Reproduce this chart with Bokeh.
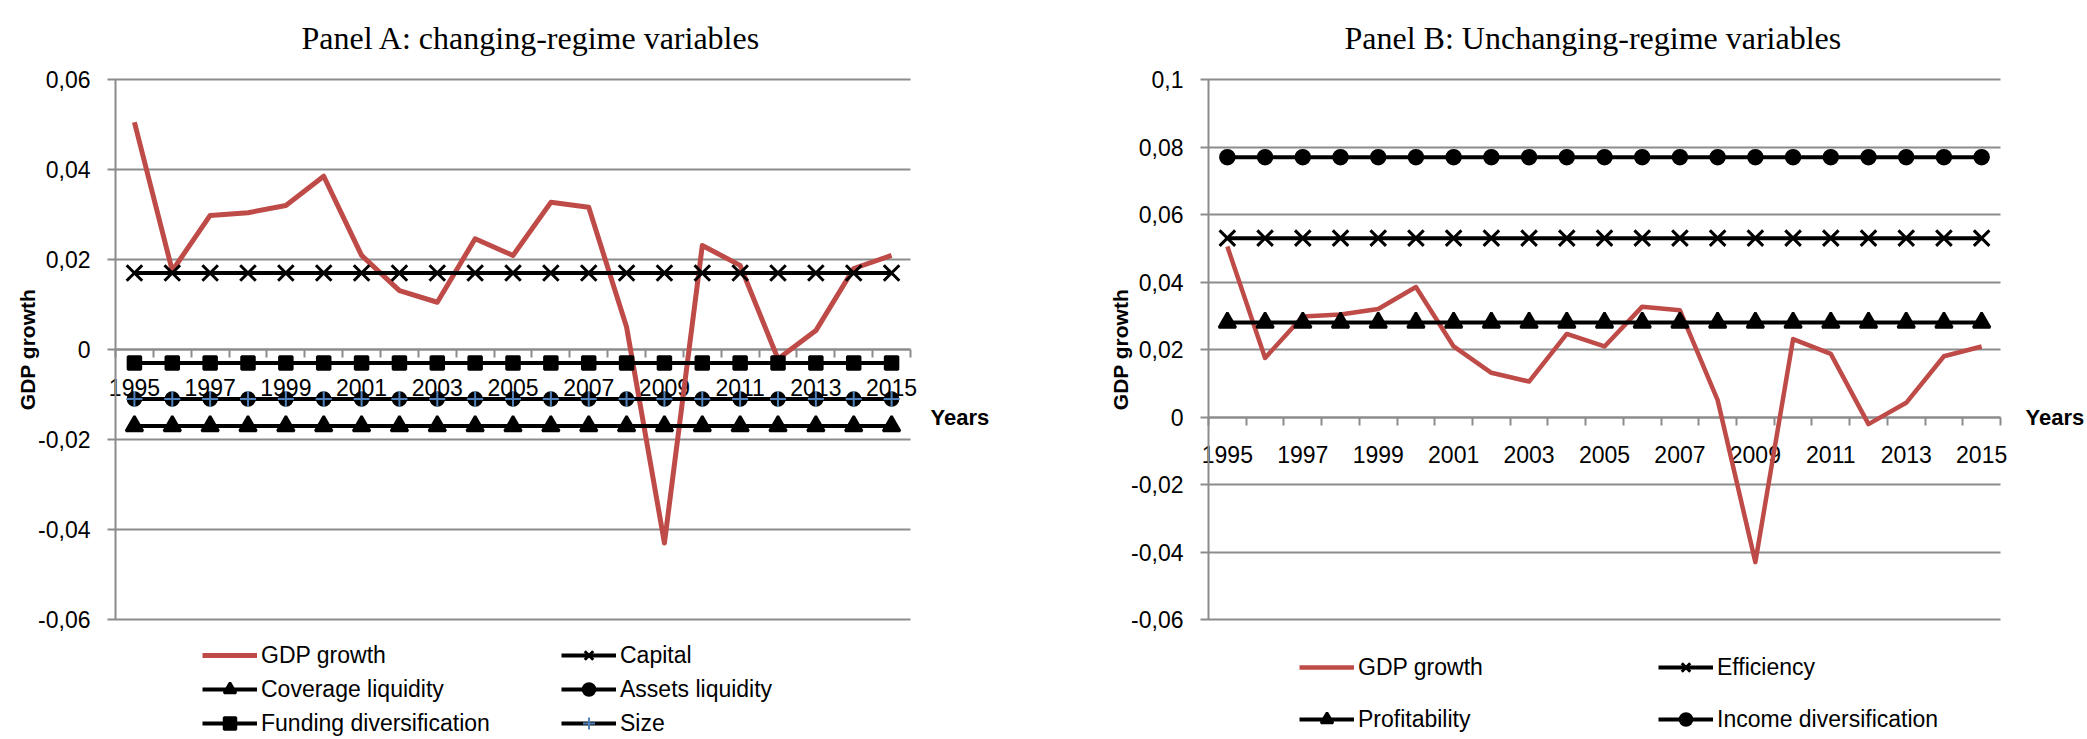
from bokeh.plotting import figure
from bokeh.layouts import row
from bokeh.models import FixedTicker, Label, Legend, LegendItem
from bokeh.embed import file_html
from bokeh.resources import INLINE

# ---------------- data ----------------
years = [1995, 1996, 1997, 1998, 1999, 2000, 2001, 2002, 2003, 2004, 2005,
         2006, 2007, 2008, 2009, 2010, 2011, 2012, 2013, 2014, 2015]
x_tick_years = [1995, 1997, 1999, 2001, 2003, 2005, 2007, 2009, 2011, 2013, 2015]
x_tick_labels = ["1995", "1997", "1999", "2001", "2003", "2005", "2007", "2009", "2011", "2013", "2015"]

gdp_growth = [0.0505, 0.0175, 0.0298, 0.0304, 0.0320, 0.0385, 0.0209, 0.0131, 0.0105, 0.0246, 0.0209,
              0.0327, 0.0316, 0.0050, -0.0430, 0.0231, 0.0187, -0.0021, 0.0042, 0.0180, 0.0209]

# Panel A (changing-regime variables)
capital = [0.017, 0.017, 0.017, 0.017, 0.017, 0.017, 0.017, 0.017, 0.017, 0.017, 0.017,
           0.017, 0.017, 0.017, 0.017, 0.017, 0.017, 0.017, 0.017, 0.017, 0.017]
coverage_liquidity = [-0.017, -0.017, -0.017, -0.017, -0.017, -0.017, -0.017, -0.017, -0.017, -0.017, -0.017,
                      -0.017, -0.017, -0.017, -0.017, -0.017, -0.017, -0.017, -0.017, -0.017, -0.017]
assets_liquidity = [-0.011, -0.011, -0.011, -0.011, -0.011, -0.011, -0.011, -0.011, -0.011, -0.011, -0.011,
                    -0.011, -0.011, -0.011, -0.011, -0.011, -0.011, -0.011, -0.011, -0.011, -0.011]
funding_diversification = [-0.003, -0.003, -0.003, -0.003, -0.003, -0.003, -0.003, -0.003, -0.003, -0.003, -0.003,
                           -0.003, -0.003, -0.003, -0.003, -0.003, -0.003, -0.003, -0.003, -0.003, -0.003]
size = [-0.011, -0.011, -0.011, -0.011, -0.011, -0.011, -0.011, -0.011, -0.011, -0.011, -0.011,
        -0.011, -0.011, -0.011, -0.011, -0.011, -0.011, -0.011, -0.011, -0.011, -0.011]

# Panel B (unchanging-regime variables)
efficiency = [0.053, 0.053, 0.053, 0.053, 0.053, 0.053, 0.053, 0.053, 0.053, 0.053, 0.053,
              0.053, 0.053, 0.053, 0.053, 0.053, 0.053, 0.053, 0.053, 0.053, 0.053]
profitability = [0.028, 0.028, 0.028, 0.028, 0.028, 0.028, 0.028, 0.028, 0.028, 0.028, 0.028,
                 0.028, 0.028, 0.028, 0.028, 0.028, 0.028, 0.028, 0.028, 0.028, 0.028]
income_diversification = [0.077, 0.077, 0.077, 0.077, 0.077, 0.077, 0.077, 0.077, 0.077, 0.077, 0.077,
                          0.077, 0.077, 0.077, 0.077, 0.077, 0.077, 0.077, 0.077, 0.077, 0.077]

y_ticks_a = [-0.06, -0.04, -0.02, 0, 0.02, 0.04, 0.06]
y_labels_a = ["-0,06", "-0,04", "-0,02", "0", "0,02", "0,04", "0,06"]
y_ticks_b = [-0.06, -0.04, -0.02, 0, 0.02, 0.04, 0.06, 0.08, 0.1]
y_labels_b = ["-0,06", "-0,04", "-0,02", "0", "0,02", "0,04", "0,06", "0,08", "0,1"]

# ---------------- style / layout (pixels) ----------------
FONT = "Liberation Sans"
SERIF = "Liberation Serif"
GRID = "#8c8c8c"
RED = "#BE4B48"
BLUE = "#4F81BD"
H = 737
PLOT_TOP, PLOT_BOTTOM = 79, 619


def make_fig(width, left, right, y_ticks, y_labels):
    """Figure whose frame is the whole canvas; the chart area spans
    pixels [left, right] x [PLOT_TOP, PLOT_BOTTOM]."""
    x0, x1 = years[0] - 0.5, years[-1] + 0.5
    y0, y1 = y_ticks[0], y_ticks[-1]
    xpp = (x1 - x0) / (right - left)
    ypp = (y1 - y0) / (PLOT_BOTTOM - PLOT_TOP)
    p = figure(width=width, height=H,
               x_range=(x0 - left * xpp, x1 + (width - right) * xpp),
               y_range=(y0 - (H - PLOT_BOTTOM) * ypp, y1 + PLOT_TOP * ypp),
               output_backend="svg", toolbar_location=None,
               min_border=0, min_border_left=0, min_border_right=0,
               min_border_top=0, min_border_bottom=0)
    p.outline_line_color = None
    p.background_fill_color = "white"
    p.border_fill_color = "white"
    p.grid.visible = False

    yax = p.yaxis[0]
    yax.fixed_location = x0
    yax.bounds = (y0, y1)
    yax.level = "underlay"
    yax.ticker = FixedTicker(ticks=y_ticks)
    yax.major_label_overrides = dict(zip(y_ticks, y_labels))
    yax.minor_tick_line_color = None
    yax.major_tick_out = 8
    yax.major_tick_in = right - left          # horizontal gridlines
    yax.major_tick_line_color = GRID
    yax.major_tick_line_width = 2
    yax.axis_line_color = GRID
    yax.axis_line_width = 2
    yax.major_label_standoff = 17
    yax.major_label_text_font = FONT
    yax.major_label_text_font_size = "23px"
    yax.major_label_text_color = "black"
    yax.axis_label = "GDP growth"
    yax.axis_label_text_font = FONT
    yax.axis_label_text_font_style = "bold"
    yax.axis_label_text_font_size = "21px"
    yax.axis_label_text_color = "black"
    yax.axis_label_standoff = -4

    xax = p.xaxis[0]
    xax.fixed_location = 0
    xax.bounds = (x0, x1)
    xax.level = "underlay"
    xax.ticker = FixedTicker(ticks=x_tick_years, minor_ticks=[y - 0.5 for y in years] + [x1])
    xax.major_label_overrides = dict(zip(x_tick_years, x_tick_labels))
    xax.major_tick_out = 0
    xax.major_tick_in = 0
    xax.major_tick_line_color = None
    xax.minor_tick_out = 8
    xax.minor_tick_in = 0
    xax.minor_tick_line_color = GRID
    xax.minor_tick_line_width = 2
    xax.axis_line_color = GRID
    xax.axis_line_width = 2
    xax.major_label_standoff = 21
    xax.major_label_text_font = FONT
    xax.major_label_text_font_size = "23px"
    xax.major_label_text_color = "black"
    return p


def series(p, values, marker, msize, mcolor="black", mline=2.5, lw=4):
    ln = p.line(years, values, line_color="black", line_width=lw, line_join="round")
    sc = p.scatter(years, values, marker=marker, size=msize, fill_color=mcolor,
                   line_color=mcolor, line_width=mline)
    return [ln, sc]


def style_legend(leg, spacing):
    leg.label_text_font = FONT
    leg.label_text_font_size = "23px"
    leg.label_text_color = "black"
    leg.glyph_width = 55
    leg.glyph_height = 30
    leg.label_height = 30
    leg.label_standoff = 4
    leg.spacing = spacing
    leg.padding = 0
    leg.margin = 0
    leg.border_line_color = None
    leg.background_fill_alpha = 0


def add_text(p, x, y, text, font, fsize, style="normal", baseline="alphabetic"):
    p.add_layout(Label(x=x, y=y, x_units="screen", y_units="screen", text=text,
                       text_font=font, text_font_size=fsize, text_font_style=style,
                       text_color="black", text_align="left", text_baseline=baseline))


# ---------------- Panel A ----------------
WA = 1048
pA = make_fig(WA, 115, 910, y_ticks_a, y_labels_a)
rA_gdp = pA.line(years, gdp_growth, line_color=RED, line_width=5, line_join="round")
rA_cap = series(pA, capital, "x", 22, mline=3)
rA_cov = series(pA, coverage_liquidity, "triangle", 17)
rA_ass = series(pA, assets_liquidity, "circle", 13)
rA_fun = series(pA, funding_diversification, "square", 13)
rA_siz = series(pA, size, "cross", 16, mcolor=BLUE, mline=2)

legA1 = Legend(items=[LegendItem(label="GDP growth", renderers=[rA_gdp]),
                      LegendItem(label="Coverage liquidity", renderers=rA_cov),
                      LegendItem(label="Funding diversification", renderers=rA_fun)],
               location=(202, H - 738))
legA2 = Legend(items=[LegendItem(label="Capital", renderers=rA_cap),
                      LegendItem(label="Assets liquidity", renderers=rA_ass),
                      LegendItem(label="Size", renderers=rA_siz)],
               location=(561, H - 738))
for lg in (legA1, legA2):
    style_legend(lg, 4)
    pA.add_layout(lg)

add_text(pA, 301, H - 37, "Panel A: changing-regime variables", SERIF, "32px")
add_text(pA, 930, H - 417, "Years", FONT, "22px", style="bold", baseline="middle")

# ---------------- Panel B ----------------
WB = 1038
pB = make_fig(WB, 1208 - WA, 2000 - WA, y_ticks_b, y_labels_b)
rB_gdp = pB.line(years, gdp_growth, line_color=RED, line_width=4.5, line_join="round")
rB_eff = series(pB, efficiency, "x", 22, mline=3)
rB_pro = series(pB, profitability, "triangle", 17)
rB_inc = series(pB, income_diversification, "circle", 14)

legB1 = Legend(items=[LegendItem(label="GDP growth", renderers=[rB_gdp]),
                      LegendItem(label="Profitability", renderers=rB_pro)],
               location=(1299 - WA, H - 734))
legB2 = Legend(items=[LegendItem(label="Efficiency", renderers=rB_eff),
                      LegendItem(label="Income diversification", renderers=rB_inc)],
               location=(1658 - WA, H - 734))
for lg in (legB1, legB2):
    style_legend(lg, 22)
    pB.add_layout(lg)

add_text(pB, 1344 - WA, H - 37, "Panel B: Unchanging-regime variables", SERIF, "32px")
add_text(pB, 2025 - WA, H - 417, "Years", FONT, "22px", style="bold", baseline="middle")

layout = row(pA, pB)
open("out.html", "w").write(file_html(layout, INLINE))
